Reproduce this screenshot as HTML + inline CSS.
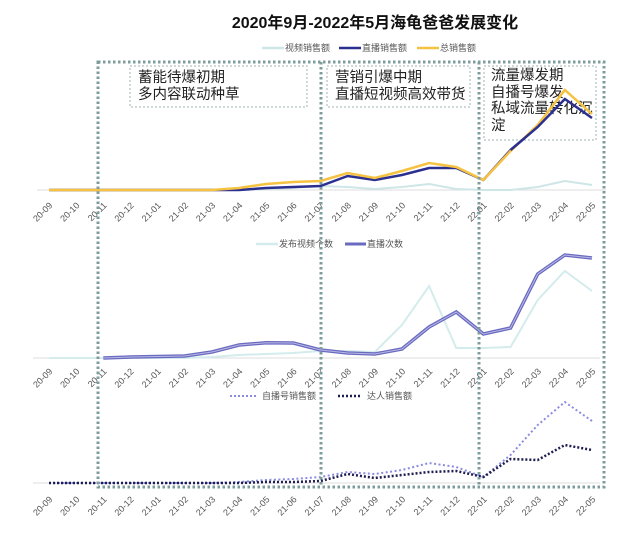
<!DOCTYPE html>
<html><head><meta charset="utf-8"><style>
body{margin:0;background:#fff}
svg{display:block;font-family:"Liberation Sans","Noto Sans CJK SC",sans-serif}
.t{font-size:9px;fill:#555}
.lg{font-size:9px;fill:#555}
.bx{font-size:14.5px;fill:#222}
</style></head><body>
<svg width="630" height="534" viewBox="0 0 630 534">
<text x="375" y="28" text-anchor="middle" font-size="16" font-weight="bold" fill="#111">2020年9月-2022年5月海龟爸爸发展变化</text>
<line x1="262" y1="48" x2="284" y2="48" stroke="#cfe6e6" stroke-width="2.5"/><text class="lg" x="285" y="51">视频销售额</text>
<line x1="339" y1="48" x2="361" y2="48" stroke="#2b2f8f" stroke-width="2.5"/><text class="lg" x="362" y="51">直播销售额</text>
<line x1="417" y1="48" x2="439" y2="48" stroke="#f5c242" stroke-width="2.5"/><text class="lg" x="440" y="51">总销售额</text>
<line x1="37" y1="190" x2="606" y2="190" stroke="#ddd"/>
<line x1="33" y1="358" x2="600" y2="358" stroke="#ddd"/>
<line x1="33" y1="483" x2="600" y2="483" stroke="#ddd"/>
<g id="labels"></g>
<polyline id="v1" fill="none" stroke="#cfe6e6" stroke-width="2"/>
<polyline id="d1" fill="none" stroke="#2b2f8f" stroke-width="2.5"/>
<polyline id="t1" fill="none" stroke="#f5c242" stroke-width="2.5"/>
<line x1="256" y1="244" x2="278" y2="244" stroke="#d4ecec" stroke-width="2.5"/><text class="lg" x="279" y="247">发布视频个数</text>
<line x1="345" y1="244" x2="366" y2="244" stroke="#6a6ac0" stroke-width="3"/><text class="lg" x="367" y="247">直播次数</text>
<polyline id="v2" fill="none" stroke="#d4ecec" stroke-width="2"/>
<polyline id="d2" fill="none" stroke="#6a6ac0" stroke-width="3.5"/>
<polyline id="d2b" fill="none" stroke="#b8b8e6" stroke-width="1"/>
<line x1="230" y1="396" x2="256" y2="396" stroke="#8b8be0" stroke-width="2" stroke-dasharray="2 2"/><text class="lg" x="262" y="399">自播号销售额</text>
<line x1="338" y1="396" x2="362" y2="396" stroke="#1e1e50" stroke-width="2.5" stroke-dasharray="2 2"/><text class="lg" x="367" y="399">达人销售额</text>
<polyline id="s3" fill="none" stroke="#8b8be0" stroke-width="2" stroke-dasharray="2 2.5"/>
<polyline id="a3" fill="none" stroke="#1e1e50" stroke-width="2.5" stroke-dasharray="2 2"/>
<g fill="none" stroke="#7f9c9c" stroke-width="3" stroke-dasharray="2.5 2.5">
<rect x="98" y="62" width="506" height="425"/>
<line x1="321" y1="62" x2="321" y2="487"/>
<line x1="479" y1="62" x2="479" y2="487"/>
</g>
<g fill="#fff" stroke="#9fb3b3" stroke-width="1" stroke-dasharray="2 2">
<rect x="130" y="66" width="177" height="41"/>
<rect x="327" y="66" width="143" height="41"/>
<rect x="484" y="66" width="112" height="74"/>
</g>
<text class="bx" x="138" y="82">蓄能待爆初期</text><text class="bx" x="138" y="99">多内容联动种草</text>
<text class="bx" x="335" y="82">营销引爆中期</text><text class="bx" x="335" y="99">直播短视频高效带货</text>
<text class="bx" x="491" y="80">流量爆发期</text><text class="bx" x="491" y="97">自播号爆发</text>
<text class="bx" x="491" y="113">私域流量转化沉</text><text class="bx" x="491" y="130">淀</text>
<polyline id="t1b" fill="none" stroke="#f5c242" stroke-width="2.5"/>
<polyline id="d1b" fill="none" stroke="#2b2f8f" stroke-width="2.5"/>
</svg>
<script>
var X=i=>49+i*27.15;
function pts(a){return a.map((y,i)=>y==null?null:X(i)+','+y).filter(Boolean).join(' ');}
function set(id,a){document.getElementById(id).setAttribute('points',pts(a));}
var t=[190,190,190,190,190,190,190,188,184,182,181,173,178,171,163,167,180,151,125,90,114];
var d=[190,190,190,190,190,190,190,190,188,187,186,176,180,175,168,168,180,150,127,99,118];
set('t1',t);set('d1',d);
set('v1',[190,190,190,190,190,190,190,190,189,188,186,187,189,187,184,189,190,190,187,181,185]);
set('v2',[358,358,358,358,358,358,357,355,354,353,351,351,352,325,286,348,348,347,300,271,291]);
var d2=[null,null,358,357,356.5,356,352,345,342.7,343,350,353,354,349,327,312,334,328,274,255,258];
var s=d2.map((y,i)=>y==null?null:X(i)+','+y).filter(Boolean).join(' ');
document.getElementById('d2').setAttribute('points',s);document.getElementById('d2b').setAttribute('points',s);
set('s3',[483,483,483,483,483,483,483,482,480,479,477,472,474,470,463,467,477,455,425,402,421]);
set('a3',[483,483,483,483,483,483,483,483,482,482,481,474,478,475,472,471,477,459,460,445,450]);
document.getElementById('t1b').setAttribute('points',[17,18,19,20].map(i=>X(i)+','+t[i]).join(' '));
document.getElementById('d1b').setAttribute('points',[17,18,19,20].map(i=>X(i)+','+d[i]).join(' '));
var labs=['20-09','20-10','20-11','20-12','21-01','21-02','21-03','21-04','21-05','21-06','21-07','21-08','21-09','21-10','21-11','21-12','22-01','22-02','22-03','22-04','22-05'];
var g=document.getElementById('labels'),h='';
[206,372,500].forEach(y=>{labs.forEach((l,i)=>{var x=X(i)+4;h+='<text class="t" text-anchor="end" transform="translate('+x+','+y+') rotate(-45)">'+l+'</text>';});});
g.innerHTML=h;
</script>
</body></html>
